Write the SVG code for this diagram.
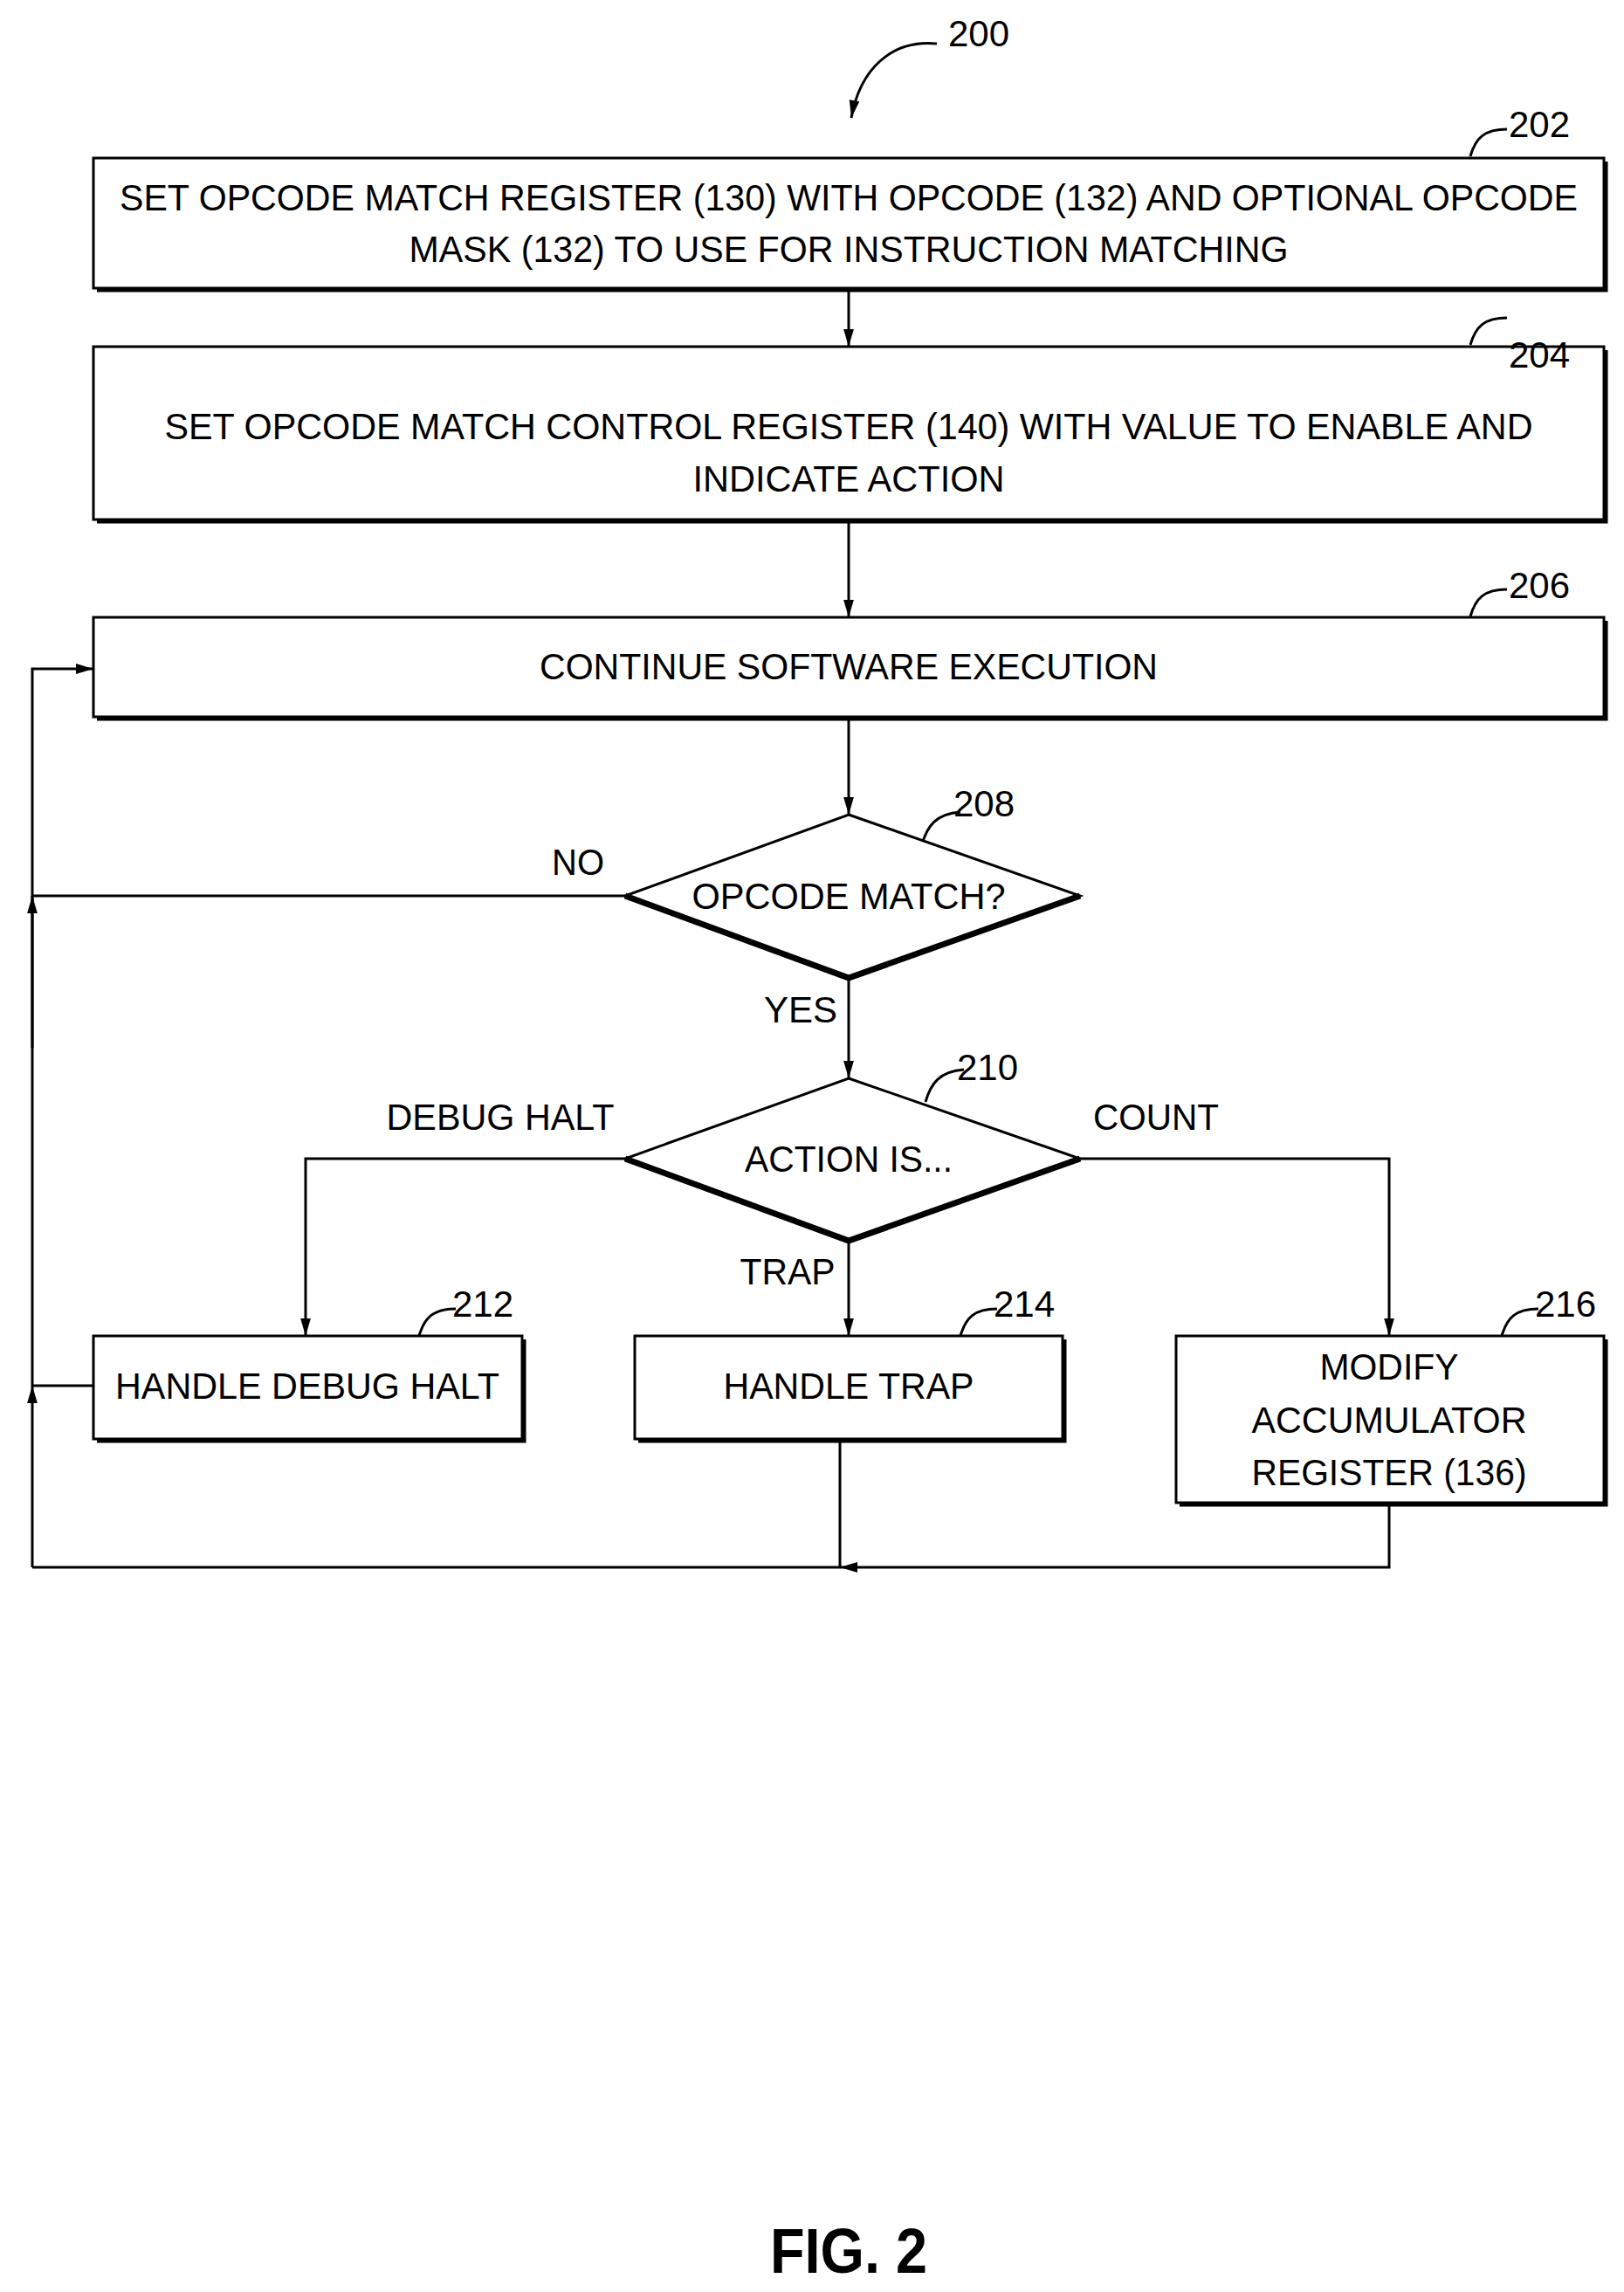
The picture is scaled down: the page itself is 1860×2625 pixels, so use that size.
<svg xmlns="http://www.w3.org/2000/svg" width="1860" height="2625" viewBox="0 0 1860 2625">
<defs>
<marker id="ah" viewBox="0 0 10 10" refX="10" refY="5" markerWidth="8" markerHeight="10" markerUnits="userSpaceOnUse" orient="auto"><path d="M0,0 L10,5 L0,10 z" fill="#000"/></marker>
<marker id="a" viewBox="0 0 20 34" refX="34" refY="10" markerWidth="34" markerHeight="20" markerUnits="userSpaceOnUse" orient="auto"><path d="M0,0 L34,10 L0,20 z" fill="#000"/></marker>
</defs>
<style>
text{font-family:"Liberation Sans",Arial,sans-serif;font-size:42px;fill:#000;text-anchor:middle}
.box{fill:#fff;stroke:#000;stroke-width:3}
.sh{fill:none;stroke:#000;stroke-width:5}
.ln{fill:none;stroke:#000;stroke-width:3}
.ref{text-anchor:start}
</style>
<rect width="1860" height="2625" fill="#fff"/>
<g id="connectors">
<path class="ln" d="M1073,50 C1020,45 985,80 975,135" marker-end="url(#a)"/>
<line class="ln" x1="972" y1="333" x2="972" y2="397" marker-end="url(#a)"/>
<line class="ln" x1="972" y1="598" x2="972" y2="707" marker-end="url(#a)"/>
<line class="ln" x1="972" y1="824" x2="972" y2="933" marker-end="url(#a)"/>
<line class="ln" x1="972" y1="1122" x2="972" y2="1235" marker-end="url(#a)"/>
<line class="ln" x1="972" y1="1423" x2="972" y2="1530" marker-end="url(#a)"/>
<polyline class="ln" points="716,1327 350,1327 350,1530" marker-end="url(#a)"/>
<polyline class="ln" points="1237,1327 1591,1327 1591,1530" marker-end="url(#a)"/>
<line class="ln" x1="716" y1="1026" x2="37" y2="1026"/>
<polyline class="ln" points="37,1587 37,766 107,766" marker-end="url(#a)"/>
<line class="ln" x1="37" y1="1200" x2="37" y2="1026" marker-end="url(#a)"/>
<line class="ln" x1="107" y1="1587" x2="37" y2="1587"/>
<line class="ln" x1="37" y1="1795" x2="37" y2="1587" marker-end="url(#a)"/>
<line class="ln" x1="962" y1="1650" x2="962" y2="1795"/>
<polyline class="ln" points="1591,1723 1591,1795 962,1795" marker-end="url(#a)"/>
<line class="ln" x1="962" y1="1795" x2="37" y2="1795"/>
<path class="ln" d="M1684,179 C1690,158 1700,148 1726,148"/>
<path class="ln" d="M1684,395 C1690,374 1700,364 1726,364"/>
<path class="ln" d="M1684,706 C1690,685 1700,675 1726,675"/>
<path class="ln" d="M1056,967 C1062,946 1072,932 1100,930"/>
<path class="ln" d="M1060,1262 C1066,1241 1076,1227 1104,1225"/>
<path class="ln" d="M480,1530 C486,1509 496,1499 522,1499"/>
<path class="ln" d="M1100,1530 C1106,1509 1116,1499 1142,1499"/>
<path class="ln" d="M1720,1530 C1726,1509 1736,1499 1762,1499"/>
</g>
<text class="ref" x="1086" y="53">200</text>
<g id="n202">
<polyline class="sh" points="111,332 1839,332 1839,185"/>
<rect class="box" x="107" y="181" width="1730" height="149"/>
<text x="972" y="241" textLength="1670" lengthAdjust="spacingAndGlyphs">SET OPCODE MATCH REGISTER (130) WITH OPCODE (132) AND OPTIONAL OPCODE</text>
<text x="972" y="300" textLength="1007" lengthAdjust="spacingAndGlyphs">MASK (132) TO USE FOR INSTRUCTION MATCHING</text>
<text class="ref" x="1728" y="157">202</text>
</g>
<g id="n204">
<polyline class="sh" points="111,597 1839,597 1839,401"/>
<rect class="box" x="107" y="397" width="1730" height="198"/>
<text x="972" y="503" textLength="1567" lengthAdjust="spacingAndGlyphs">SET OPCODE MATCH CONTROL REGISTER (140) WITH VALUE TO ENABLE AND</text>
<text x="972" y="563" textLength="357" lengthAdjust="spacingAndGlyphs">INDICATE ACTION</text>
<text class="ref" x="1728" y="421">204</text>
</g>
<g id="n206">
<polyline class="sh" points="111,823 1839,823 1839,711"/>
<rect class="box" x="107" y="707" width="1730" height="114"/>
<text x="972" y="778" textLength="708" lengthAdjust="spacingAndGlyphs">CONTINUE SOFTWARE EXECUTION</text>
<text class="ref" x="1728" y="685">206</text>
</g>
<g id="n208">
<polygon class="box" points="972,933 1237,1026 972,1120 716,1026"/>
<polyline class="ln" style="stroke-width:7" points="1237,1026 972,1120 716,1026"/>
<text x="972" y="1041" textLength="359" lengthAdjust="spacingAndGlyphs">OPCODE MATCH?</text>
<text class="ref" x="1092" y="935">208</text>
</g>
<g id="n210">
<polygon class="box" points="972,1235 1237,1327 972,1421 716,1327"/>
<polyline class="ln" style="stroke-width:7" points="1237,1327 972,1421 716,1327"/>
<text x="972" y="1342" textLength="238" lengthAdjust="spacingAndGlyphs">ACTION IS...</text>
<text class="ref" x="1096" y="1237">210</text>
</g>
<g id="n212">
<polyline class="sh" points="111,1650 600,1650 600,1534"/>
<rect class="box" x="107" y="1530" width="491" height="118"/>
<text x="352" y="1602" textLength="440" lengthAdjust="spacingAndGlyphs">HANDLE DEBUG HALT</text>
<text class="ref" x="518" y="1508">212</text>
</g>
<g id="n214">
<polyline class="sh" points="731,1650 1219,1650 1219,1534"/>
<rect class="box" x="727" y="1530" width="490" height="118"/>
<text x="972" y="1602" textLength="287" lengthAdjust="spacingAndGlyphs">HANDLE TRAP</text>
<text class="ref" x="1138" y="1508">214</text>
</g>
<g id="n216">
<polyline class="sh" points="1351,1723 1839,1723 1839,1534"/>
<rect class="box" x="1347" y="1530" width="490" height="191"/>
<text x="1591" y="1580" textLength="159" lengthAdjust="spacingAndGlyphs">MODIFY</text>
<text x="1591" y="1641" textLength="315" lengthAdjust="spacingAndGlyphs">ACCUMULATOR</text>
<text x="1591" y="1701" textLength="315" lengthAdjust="spacingAndGlyphs">REGISTER (136)</text>
<text class="ref" x="1758" y="1508">216</text>
</g>
<text x="662" y="1002" textLength="60" lengthAdjust="spacingAndGlyphs">NO</text>
<text x="917" y="1171" textLength="84" lengthAdjust="spacingAndGlyphs">YES</text>
<text x="573" y="1294" textLength="261" lengthAdjust="spacingAndGlyphs">DEBUG HALT</text>
<text x="1324" y="1294" textLength="144" lengthAdjust="spacingAndGlyphs">COUNT</text>
<text x="902" y="1471" textLength="109" lengthAdjust="spacingAndGlyphs">TRAP</text>
<text x="972" y="2603" style="font-size:72px;font-weight:bold" textLength="180" lengthAdjust="spacingAndGlyphs">FIG. 2</text>
</svg>
